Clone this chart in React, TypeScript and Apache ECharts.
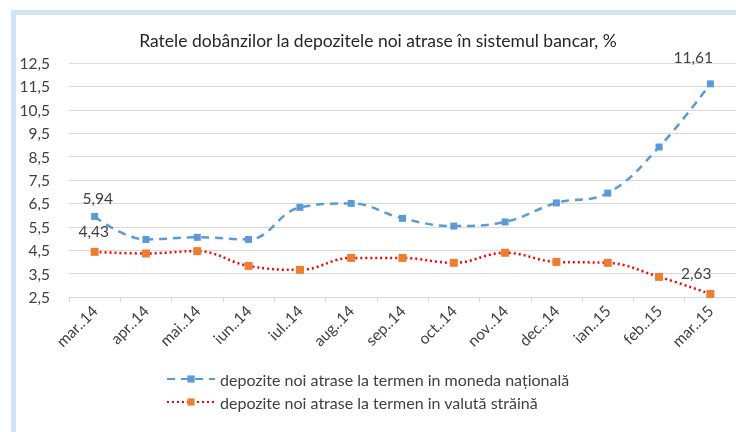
import React, { useEffect, useRef } from "react";
import * as echarts from "echarts";

const categories = ["mar..14", "apr..14", "mai..14", "iun..14", "iul..14", "aug..14", "sep..14", "oct..14", "nov..14", "dec..14", "ian..15", "feb..15", "mar..15"];
const nationalValues = [5.94, 4.96, 5.05, 4.96, 6.33, 6.5, 5.86, 5.53, 5.71, 6.52, 6.94, 8.91, 11.61];
const foreignValues = [4.43, 4.36, 4.46, 3.83, 3.66, 4.17, 4.17, 3.96, 4.39, 4.0, 3.96, 3.36, 2.63];
const yTicks = [2.5, 3.5, 4.5, 5.5, 6.5, 7.5, 8.5, 9.5, 10.5, 11.5, 12.5];
const seriesNames = ["depozite noi atrase la termen in moneda națională", "depozite noi atrase la termen in valută străină"];
const titleText = "Ratele dobânzilor la depozitele noi atrase în sistemul bancar, %";

const FONT = "Lato";
const TXT = "#404040";
const fmt = (v: number) => String(v).replace(".", ",");

export default function App() {
  const ref = useRef<HTMLDivElement>(null);
  useEffect(() => {
    if (!ref.current) return;
    const chart = echarts.init(ref.current, null, { renderer: "svg" });
    const last = categories.length - 1;
    const labelCfg = (offset: number[]) => ({
      show: true,
      position: "top",
      offset,
      fontFamily: FONT,
      fontSize: 15.5,
      color: TXT,
      formatter: (p: any) => fmt(p.value),
    });
    const nationalData = nationalValues.map((v, i) =>
      i === 0 ? { value: v, label: labelCfg([3, -2]) } : i === last ? { value: v, label: labelCfg([-17, -10]) } : v
    );
    const foreignData = foreignValues.map((v, i) =>
      i === 0 ? { value: v, label: labelCfg([-1, -4]) } : i === last ? { value: v, label: labelCfg([-14, -4]) } : v
    );
    chart.setOption({
      animation: false,
      textStyle: { fontFamily: FONT },
      title: {
        text: titleText,
        left: 373,
        textAlign: "center",
        top: 26,
        textStyle: { fontFamily: FONT, fontSize: 17.5, fontWeight: "normal", color: "#262626" },
      },
      graphic: [
        {
          type: "rect",
          z: -10,
          shape: { x: 13.5, y: 12.5, width: 900, height: 600 },
          style: { fill: "none", stroke: "#d3e3f3", lineWidth: 5 },
        },
      ],
      grid: { left: 69, top: 63, width: 670, height: 234, containLabel: false },
      legend: {
        orient: "vertical",
        left: 161,
        top: 366,
        itemWidth: 48,
        itemHeight: 9,
        itemGap: 7,
        textStyle: { fontFamily: FONT, fontSize: 16, color: TXT },
        data: seriesNames,
      },
      xAxis: {
        type: "category",
        data: categories,
        boundaryGap: true,
        axisLine: { lineStyle: { color: "#d9d9d9", width: 1 } },
        axisTick: { show: true, length: 5, lineStyle: { color: "#d9d9d9" } },
        axisLabel: { rotate: 45, fontFamily: FONT, fontSize: 15.5, color: TXT, margin: 11 },
      },
      yAxis: {
        type: "value",
        min: 2.5,
        max: 12.5,
        axisLine: { show: false },
        axisTick: { show: false, customValues: yTicks },
        splitLine: { lineStyle: { color: "#d9d9d9", width: 1 } },
        axisLabel: {
          customValues: yTicks,
          fontFamily: FONT,
          fontSize: 15.5,
          color: TXT,
          margin: 19,
          formatter: (v: number) => fmt(v),
        },
      },
      series: [
        {
          name: seriesNames[0],
          type: "line",
          smooth: 0.4,
          data: nationalData,
          symbol: "rect",
          symbolSize: 7,
          itemStyle: { color: "#5B9BD5" },
          lineStyle: { color: "#5B9BD5", width: 2.5, type: [8, 6] },
        },
        {
          name: seriesNames[1],
          type: "line",
          smooth: 0.4,
          data: foreignData,
          symbol: "rect",
          symbolSize: 8,
          itemStyle: { color: "#ED7D31" },
          lineStyle: { color: "#FF0000", width: 2.5, type: [2, 3] },
        },
      ],
    });
    return () => chart.dispose();
  }, []);
  return <div ref={ref} style={{ position: "fixed", left: 0, top: 0, width: 736, height: 432 }} />;
}
